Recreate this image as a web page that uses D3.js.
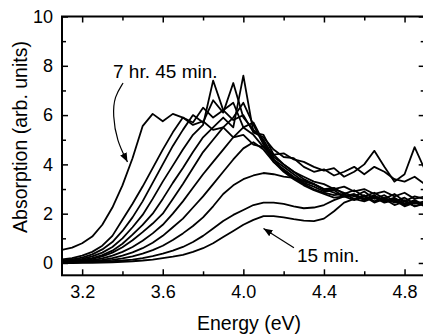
<!DOCTYPE html>
<html>
<head>
<meta charset="utf-8">
<script src="https://cdn.jsdelivr.net/npm/d3@7/dist/d3.min.js"></script>
<style>
  html, body { margin: 0; padding: 0; background: #fff; }
  svg { display: block; font-family: "Liberation Sans", Arial, sans-serif; }
  .axis path, .axis line { stroke: #000; }
  .axis text { font-size: 18px; fill: #000; }
  .curve { fill: none; stroke: #000; stroke-width: 1.8; stroke-linejoin: round; }
</style>
</head>
<body>
<div id="chart"></div>
<script>
// energy grid (eV), shared by every spectrum
const energy = [3.10, 3.15, 3.20, 3.25, 3.30, 3.35, 3.40, 3.45, 3.50, 3.55,
  3.60, 3.65, 3.70, 3.75, 3.80, 3.85, 3.90, 3.95, 4.00, 4.05,
  4.10, 4.15, 4.20, 4.25, 4.30, 4.35, 4.40, 4.45, 4.50, 4.55,
  4.60, 4.65, 4.70, 4.75, 4.80, 4.85, 4.90];

// absorption spectra, longest exposure (7 hr 45 min) first, 15 min last
const spectra = [
  [0.53, 0.62, 0.80, 1.07, 1.55, 2.25, 3.15, 4.25, 5.55, 6.05, 5.75, 6.05, 5.90, 5.60, 5.75, 5.40, 5.50, 5.10, 5.20, 4.80, 4.70, 4.40, 4.45, 4.20, 4.10, 3.90, 3.75, 3.85, 3.50, 3.70, 4.00, 4.55, 3.90, 3.30, 3.60, 4.70, 3.80],
  [0.15, 0.20, 0.30, 0.45, 0.70, 1.10, 1.75, 2.40, 3.10, 3.85, 4.60, 5.30, 5.90, 5.70, 6.30, 5.90, 6.20, 5.80, 6.00, 5.30, 5.10, 4.60, 4.30, 4.25, 3.90, 3.70, 3.80, 3.55, 3.70, 3.90, 3.60, 3.90, 3.70, 3.40, 3.30, 3.50, 3.20],
  [0.10, 0.15, 0.22, 0.35, 0.55, 0.85, 1.30, 1.85, 2.50, 3.25, 4.00, 4.75, 5.40, 6.00, 5.70, 6.60, 6.10, 7.30, 5.90, 5.40, 5.00, 4.30, 4.00, 3.70, 3.50, 3.30, 3.20, 3.00, 3.10, 2.90, 3.00, 2.80, 2.90, 2.70, 2.85, 2.60, 2.70],
  [0.08, 0.10, 0.17, 0.27, 0.42, 0.65, 1.00, 1.45, 1.95, 2.60, 3.30, 3.95, 4.60, 5.20, 5.60, 7.40, 6.20, 6.50, 5.50, 5.70, 4.90, 4.20, 3.90, 3.60, 3.30, 3.20, 3.00, 3.05, 2.80, 2.95, 2.70, 2.85, 2.60, 2.80, 2.50, 2.70, 2.60],
  [0.06, 0.08, 0.13, 0.20, 0.32, 0.50, 0.78, 1.15, 1.55, 2.00, 2.60, 3.25, 3.85, 4.50, 5.10, 5.50, 5.90, 5.50, 7.60, 5.30, 5.20, 4.40, 4.00, 3.70, 3.40, 3.20, 2.95, 3.00, 2.85, 2.70, 2.90, 2.60, 2.75, 2.50, 2.65, 2.40, 2.50],
  [0.05, 0.07, 0.11, 0.17, 0.27, 0.42, 0.64, 0.92, 1.25, 1.60, 2.00, 2.60, 3.20, 3.85, 4.50, 5.00, 5.50, 5.90, 6.50, 5.60, 4.80, 4.10, 3.80, 3.50, 3.25, 3.10, 2.90, 2.95, 2.70, 2.80, 2.60, 2.75, 2.50, 2.65, 2.40, 2.55, 2.35],
  [0.04, 0.05, 0.08, 0.12, 0.19, 0.30, 0.45, 0.65, 0.90, 1.20, 1.55, 2.00, 2.50, 3.05, 3.60, 4.10, 4.60, 5.10, 5.50, 5.20, 4.70, 4.20, 3.75, 3.45, 3.20, 3.00, 2.85, 2.75, 2.80, 2.60, 2.75, 2.50, 2.65, 2.45, 2.55, 2.30, 2.45],
  [0.03, 0.04, 0.06, 0.09, 0.13, 0.20, 0.30, 0.43, 0.60, 0.82, 1.10, 1.45, 1.80, 2.25, 2.70, 3.20, 3.70, 4.20, 4.65, 4.90, 4.60, 4.10, 3.70, 3.40, 3.15, 2.95, 2.80, 2.65, 2.70, 2.55, 2.70, 2.45, 2.60, 2.35, 2.50, 2.30, 2.40],
  [0.02, 0.03, 0.04, 0.06, 0.09, 0.13, 0.19, 0.27, 0.38, 0.52, 0.70, 0.93, 1.20, 1.50, 1.85, 2.30, 2.80, 3.15, 3.40, 3.55, 3.65, 3.60, 3.50, 3.45, 3.35, 3.20, 3.00, 2.85, 2.70, 2.75, 2.55, 2.70, 2.50, 2.60, 2.35, 2.50, 2.30],
  [0.02, 0.02, 0.03, 0.04, 0.05, 0.07, 0.10, 0.14, 0.20, 0.28, 0.38, 0.50, 0.65, 0.85, 1.10, 1.40, 1.70, 1.95, 2.15, 2.35, 2.45, 2.45, 2.40, 2.30, 2.22, 2.25, 2.35, 2.55, 2.70, 2.75, 2.60, 2.70, 2.50, 2.60, 2.40, 2.50, 2.35],
  [0.00, 0.00, 0.01, 0.01, 0.02, 0.03, 0.05, 0.07, 0.10, 0.14, 0.20, 0.26, 0.33, 0.45, 0.60, 0.80, 1.05, 1.30, 1.55, 1.75, 1.90, 1.90, 1.85, 1.78, 1.72, 1.70, 1.80, 2.10, 2.45, 2.60, 2.50, 2.65, 2.45, 2.55, 2.30, 2.45, 2.40]
];

const xMajor = [3.2, 3.6, 4.0, 4.4, 4.8];
const xMinor = [3.4, 3.8, 4.2, 4.6];
const yMajor = [0, 2, 4, 6, 8, 10];
const yMinor = [1, 3, 5, 7, 9];

// annotation text and arrows, in data units (eV, absorption)
const labelLong = { text: '7 hr. 45 min.', e: 3.353, a: 7.5 };
const arrowLong = [[3.403, 7.30], [3.360, 6.75], [3.352, 6.00], [3.372, 4.95], [3.425, 4.10]];
const labelShort = { text: '15 min.', e: 4.266, a: 0.04 };
const arrowShort = [[4.251, 0.62], [4.100, 1.40]];

const width = 423;
const height = 335;
const margin = { left: 62, top: 16.5, right: -1.7, bottom: 59.7 };

const svg = d3.select('#chart')
  .append('svg')
  .attr('width', width)
  .attr('height', height);

const x = d3.scaleLinear()
  .domain([3.1, 4.9])
  .range([margin.left, width - margin.right]);

const y = d3.scaleLinear()
  .domain([-0.5, 10])
  .range([height - margin.bottom, margin.top]);

// arrowhead marker
svg.append('defs').append('marker')
  .attr('id', 'head')
  .attr('viewBox', '0 -5 10 10')
  .attr('refX', 10)
  .attr('refY', 0)
  .attr('markerWidth', 9)
  .attr('markerHeight', 9)
  .attr('markerUnits', 'userSpaceOnUse')
  .attr('orient', 'auto')
  .append('path')
  .attr('d', 'M0,-4L10,0L0,4Z')
  .attr('fill', '#000');

// curves
const line = d3.line()
  .x((d, i) => x(energy[i]))
  .y(d => y(d));

svg.append('g')
  .selectAll('path')
  .data(spectra)
  .enter().append('path')
  .attr('class', 'curve')
  .attr('d', line);

// axes, ticks pointing inward
const x0 = x.range()[0], x1 = x.range()[1];
const y0 = y.range()[0], y1 = y.range()[1];

function styleAxis(g) {
  g.attr('class', 'axis');
  g.select('.domain').remove();
  g.selectAll('line').attr('stroke-width', 1.5);
}

svg.append('g')
  .attr('transform', `translate(0,${y0})`)
  .call(d3.axisBottom(x).tickValues(xMajor).tickSize(-6).tickPadding(10).tickFormat(d3.format('.1f')))
  .call(styleAxis);
svg.append('g')
  .attr('transform', `translate(0,${y0})`)
  .call(d3.axisBottom(x).tickValues(xMinor).tickSize(-4).tickFormat(''))
  .call(styleAxis);
svg.append('g')
  .attr('transform', `translate(0,${y1})`)
  .call(d3.axisTop(x).tickValues(xMajor).tickSize(-6).tickFormat(''))
  .call(styleAxis);
svg.append('g')
  .attr('transform', `translate(0,${y1})`)
  .call(d3.axisTop(x).tickValues(xMinor).tickSize(-4).tickFormat(''))
  .call(styleAxis);

svg.append('g')
  .attr('transform', `translate(${x0},0)`)
  .call(d3.axisLeft(y).tickValues(yMajor).tickSize(-6).tickPadding(9))
  .call(styleAxis);
svg.append('g')
  .attr('transform', `translate(${x0},0)`)
  .call(d3.axisLeft(y).tickValues(yMinor).tickSize(-4).tickFormat(''))
  .call(styleAxis);
svg.append('g')
  .attr('transform', `translate(${x1},0)`)
  .call(d3.axisRight(y).tickValues(yMajor).tickSize(-6).tickFormat(''))
  .call(styleAxis);
svg.append('g')
  .attr('transform', `translate(${x1},0)`)
  .call(d3.axisRight(y).tickValues(yMinor).tickSize(-4).tickFormat(''))
  .call(styleAxis);

// frame
svg.append('rect')
  .attr('x', x0)
  .attr('y', y1)
  .attr('width', x1 - x0)
  .attr('height', y0 - y1)
  .attr('fill', 'none')
  .attr('stroke', '#000')
  .attr('stroke-width', 2);

// axis titles
svg.append('text')
  .attr('x', 249)
  .attr('y', 330)
  .attr('text-anchor', 'middle')
  .attr('font-size', 19.5)
  .text('Energy (eV)');

svg.append('text')
  .attr('transform', 'translate(27,137) rotate(-90)')
  .attr('text-anchor', 'middle')
  .attr('font-size', 19.5)
  .text('Absorption (arb. units)');

// annotations
const arrowLine = d3.line()
  .x(d => x(d[0]))
  .y(d => y(d[1]))
  .curve(d3.curveBasis);

svg.append('text')
  .attr('x', x(labelLong.e))
  .attr('y', y(labelLong.a))
  .attr('font-size', 19)
  .text(labelLong.text);

svg.append('path')
  .attr('d', arrowLine(arrowLong))
  .attr('fill', 'none')
  .attr('stroke', '#000')
  .attr('stroke-width', 1.2)
  .attr('marker-end', 'url(#head)');

svg.append('text')
  .attr('x', x(labelShort.e))
  .attr('y', y(labelShort.a))
  .attr('font-size', 19)
  .text(labelShort.text);

svg.append('path')
  .attr('d', arrowLine(arrowShort))
  .attr('fill', 'none')
  .attr('stroke', '#000')
  .attr('stroke-width', 1.2)
  .attr('marker-end', 'url(#head)');
</script>
</body>
</html>
